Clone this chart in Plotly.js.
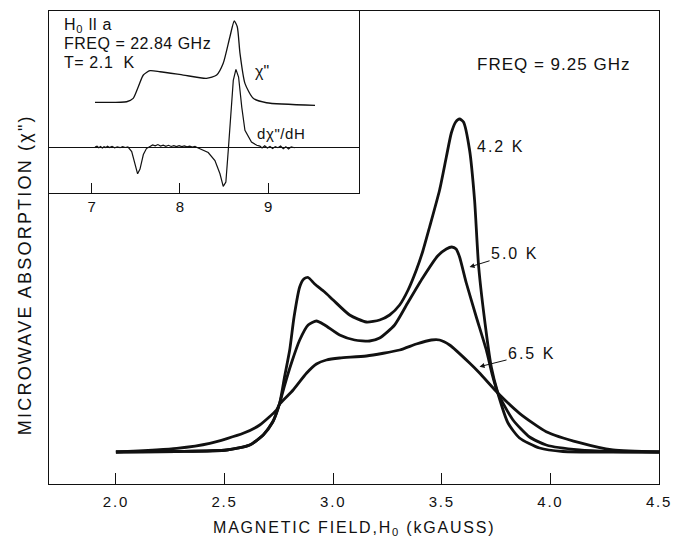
<!DOCTYPE html>
<html>
<head>
<meta charset="utf-8">
<script src="https://cdn.plot.ly/plotly-3.0.1.min.js"></script>
<style>
body{margin:0;padding:0;background:#fff;}
#chart{width:684px;height:540px;}
</style>
</head>
<body>
<div id="chart"></div>
<script>
// ---- Main chart: microwave absorption vs magnetic field (kG), FREQ = 9.25 GHz ----
var h42 = [2.00, 2.28, 2.51, 2.616, 2.678, 2.722, 2.754, 2.777, 2.800, 2.820, 2.846, 2.865, 2.885, 2.915, 2.961, 3.000, 3.076, 3.153, 3.214, 3.260, 3.306, 3.345, 3.383, 3.413, 3.444, 3.490, 3.521, 3.544, 3.564, 3.582, 3.600, 3.628, 3.651, 3.670, 3.705, 3.728, 3.758, 3.805, 3.858, 3.950, 4.058, 4.286, 4.50];
var y42 = [0, 0.005, 0.02, 0.07, 0.17, 0.30, 0.49, 0.76, 1.02, 1.35, 1.65, 1.73, 1.745, 1.68, 1.60, 1.52, 1.37, 1.30, 1.32, 1.37, 1.47, 1.62, 1.82, 2.01, 2.25, 2.62, 2.95, 3.19, 3.30, 3.33, 3.30, 3.02, 2.52, 1.85, 1.19, 0.85, 0.59, 0.29, 0.14, 0.04, 0.005, 0, 0];

var h50 = [2.00, 2.28, 2.51, 2.616, 2.678, 2.724, 2.754, 2.777, 2.808, 2.846, 2.885, 2.923, 2.961, 3.030, 3.099, 3.168, 3.214, 3.283, 3.343, 3.412, 3.481, 3.521, 3.546, 3.566, 3.582, 3.613, 3.659, 3.705, 3.734, 3.758, 3.828, 3.904, 3.981, 4.134, 4.286, 4.50];
var y50 = [0, 0.005, 0.02, 0.07, 0.17, 0.31, 0.49, 0.67, 0.89, 1.12, 1.27, 1.31, 1.27, 1.17, 1.12, 1.11, 1.14, 1.27, 1.49, 1.74, 1.96, 2.03, 2.05, 2.03, 1.95, 1.69, 1.35, 1.02, 0.76, 0.59, 0.32, 0.15, 0.07, 0.02, 0.005, 0];

var h65 = [2.00, 2.28, 2.432, 2.586, 2.662, 2.739, 2.754, 2.816, 2.877, 2.923, 2.969, 3.030, 3.153, 3.306, 3.383, 3.452, 3.490, 3.536, 3.628, 3.674, 3.758, 3.858, 3.981, 4.134, 4.288, 4.50];
var y65 = [0, 0.037, 0.087, 0.187, 0.27, 0.42, 0.48, 0.62, 0.787, 0.88, 0.92, 0.94, 0.96, 1.02, 1.08, 1.12, 1.12, 1.07, 0.89, 0.79, 0.59, 0.387, 0.203, 0.093, 0.02, 0];

var mainTicks = [2.0, 2.5, 3.0, 3.5, 4.0, 4.5];
var mainTickText = ["2.0", "2.5", "3.0", "3.5", "4.0", "4.5"];

// ---- Inset: H0 || a, FREQ = 22.84 GHz, T = 2.1 K ----
var hChi = [7.037, 7.396, 7.47, 7.528, 7.585, 7.66, 7.774, 8.037, 8.30, 8.416, 8.49, 8.566, 8.615, 8.649, 8.68, 8.736, 8.83, 8.98, 9.53];
var yChi = [4.47, 4.53, 4.87, 6.03, 7.2, 7.63, 7.53, 7.2, 6.87, 7.2, 8.37, 11.03, 12.6, 12.03, 9.37, 6.37, 4.87, 4.43, 4.17];

var hDer = [7.037, 7.06, 7.08, 7.10, 7.12, 7.14, 7.16, 7.18, 7.20, 7.23, 7.26, 7.29, 7.32, 7.35, 7.38, 7.41, 7.453, 7.49, 7.52, 7.547, 7.585, 7.62, 7.66, 7.69, 7.72, 7.75, 7.78, 7.81, 7.84, 7.87, 7.90, 7.93, 7.96, 7.99, 8.02, 8.05, 8.08, 8.11, 8.14, 8.17, 8.20, 8.24, 8.32, 8.396, 8.453, 8.49, 8.52, 8.547, 8.578, 8.604, 8.634, 8.664, 8.70, 8.736, 8.81, 8.87, 8.906, 8.93, 8.96, 8.99, 9.02, 9.05, 9.08, 9.11, 9.14, 9.17, 9.20, 9.23, 9.26, 9.30];
var yDer = [0, 0.08, -0.06, 0.05, -0.1, 0.04, -0.05, 0.08, -0.04, 0.06, -0.08, 0.03, -0.06, 0.05, -0.04, 0.02, -0.45, -1.67, -2.67, -2.2, -0.75, -0.15, 0.05, 0.22, 0.12, 0.25, 0.1, 0.2, 0.08, 0.18, 0.06, 0.15, 0.05, 0.14, 0.04, 0.12, 0.02, 0.1, 0.0, 0.06, -0.06, -0.2, -0.55, -1.35, -2.67, -3.93, -3.5, -0.33, 3.67, 6.67, 7.77, 7.0, 4.0, 1.67, 0.5, 0.18, 0.1, -0.08, 0.12, -0.1, 0.06, -0.14, 0.05, -0.06, 0.1, -0.16, 0.04, -0.2, 0.02, -0.07];

var insetTicks = [7, 8, 9];
var insetTickText = ["7", "8", "9"];

var FONT = "Liberation Sans, Arial, Helvetica, sans-serif";
var INK = "#111";

function sp(t, px) { return '<span style="letter-spacing:' + px + 'px">' + t + '</span>'; }

function curve(x, y, xa, ya, w, shape) {
  return {x: x, y: y, xaxis: xa, yaxis: ya, type: "scatter", mode: "lines",
          line: {color: INK, width: w, shape: shape, smoothing: 0.6},
          hoverinfo: "skip", showlegend: false};
}

var data = [
  curve(h65, y65, "x", "y", 2.8, "spline"),
  curve(h50, y50, "x", "y", 2.8, "spline"),
  curve(h42, y42, "x", "y", 2.8, "spline"),
  curve(hChi, yChi, "x2", "y2", 1.3, "spline"),
  curve(hDer, yDer, "x2", "y2", 1.2, "linear")
];

var layout = {
  width: 684, height: 540,
  margin: {l: 49, r: 25, t: 11, b: 56},
  paper_bgcolor: "#fff", plot_bgcolor: "#fff",
  font: {family: FONT, color: INK, size: 15},
  showlegend: false,
  xaxis: {
    domain: [0, 1], range: [1.692, 4.5], anchor: "y",
    showgrid: false, zeroline: false,
    showline: true, mirror: true, linecolor: INK, linewidth: 1,
    ticks: "inside", ticklen: 11, tickwidth: 1, tickcolor: INK,
    tickvals: mainTicks, ticktext: mainTickText.map(function(t){ return sp(t, 1.8); }),
    tickfont: {size: 15, family: FONT, color: INK},
    ticklabelstandoff: 4
  },
  yaxis: {
    domain: [0, 1], range: [-0.32, 4.41], anchor: "x",
    showgrid: false, zeroline: false,
    showline: true, mirror: true, linecolor: INK, linewidth: 1,
    ticks: "", showticklabels: false
  },
  xaxis2: {
    domain: [0, 0.508], range: [6.516, 10.027], anchor: "y2",
    showgrid: false, zeroline: false,
    showline: true, mirror: true, linecolor: INK, linewidth: 1,
    ticks: "inside", ticklen: 10, tickwidth: 1, tickcolor: INK,
    tickvals: insetTicks, ticktext: insetTickText,
    tickfont: {size: 15, family: FONT, color: INK}
  },
  yaxis2: {
    domain: [0.615, 1], range: [-4.6, 13.6], anchor: "x2",
    showgrid: false,
    zeroline: true, zerolinecolor: INK, zerolinewidth: 1,
    showline: true, mirror: true, linecolor: INK, linewidth: 1,
    ticks: "", showticklabels: false
  },
  annotations: [
    {xref: "paper", yref: "paper", x: 0.5, y: -0.095, xanchor: "center", yanchor: "middle",
     text: sp("MAGNETIC FIELD,H<sub>0</sub> (kGAUSS)", 1.8), showarrow: false, font: {size: 16}},
    {xref: "paper", yref: "paper", x: -0.039, y: 0.442, xanchor: "center", yanchor: "middle",
     text: sp("MICROWAVE ABSORPTION (χ\")", 2.2), textangle: -90, showarrow: false, font: {size: 18}},
    {xref: "x", yref: "y", x: 3.651, y: 3.88, xanchor: "left", yanchor: "middle",
     text: sp("FREQ = 9.25 GHz", 1), showarrow: false, font: {size: 17}},
    {xref: "x", yref: "y", x: 3.651, y: 3.06, xanchor: "left", yanchor: "middle",
     text: sp("4.2 K", 2), showarrow: false, font: {size: 16}},
    {xref: "x", yref: "y", x: 3.628, y: 1.85, ax: 45, ay: -14,
     text: sp("5.0 K", 2), showarrow: true, arrowhead: 2, arrowsize: 1, arrowwidth: 1, arrowcolor: INK,
     font: {size: 16}},
    {xref: "x", yref: "y", x: 3.674, y: 0.853, ax: 52, ay: -13,
     text: sp("6.5 K", 2), showarrow: true, arrowhead: 2, arrowsize: 1, arrowwidth: 1, arrowcolor: INK,
     font: {size: 16}},
    {xref: "x2", yref: "y2", x: 6.664, y: 12.2, xanchor: "left", yanchor: "middle",
     text: sp("H<sub>0</sub> ll a", 0.8), showarrow: false, font: {size: 16}},
    {xref: "x2", yref: "y2", x: 6.664, y: 10.4, xanchor: "left", yanchor: "middle",
     text: sp("FREQ = 22.84 GHz", 0.5), showarrow: false, font: {size: 16}},
    {xref: "x2", yref: "y2", x: 6.664, y: 8.5, xanchor: "left", yanchor: "middle",
     text: sp("T= 2.1  K", 0.6), showarrow: false, font: {size: 16}},
    {xref: "x2", yref: "y2", x: 8.83, y: 7.53, xanchor: "left", yanchor: "middle",
     text: "χ\"", showarrow: false, font: {size: 16}},
    {xref: "x2", yref: "y2", x: 8.85, y: 1.4, xanchor: "left", yanchor: "middle",
     text: sp("dχ\"/dH", 0.6), showarrow: false, font: {size: 15}},
    {xref: "x2", yref: "y2", x: 8.147, y: -7.8, xanchor: "center", yanchor: "middle",
     text: sp("H<sub>0</sub> (kG)", 0.8), showarrow: false, font: {size: 15}}
  ]
};

Plotly.newPlot("chart", data, layout, {staticPlot: true, displayModeBar: false});
</script>
</body>
</html>
